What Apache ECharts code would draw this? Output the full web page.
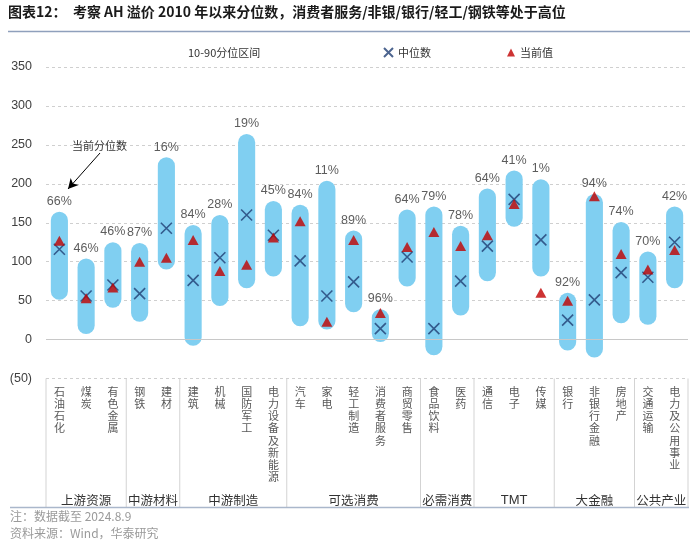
<!DOCTYPE html>
<html>
<head>
<meta charset="utf-8">
<script src="https://cdn.jsdelivr.net/npm/echarts@6/dist/echarts.min.js"></script>
<style>
html,body{margin:0;padding:0;background:#fff;}
#c{width:700px;height:547px;}
</style>
</head>
<body>
<div id="c"></div>
<script>
const categories = ['石油石化','煤炭','有色金属','钢铁','建材','建筑','机械','国防军工','电力设备及新能源','汽车','家电','轻工制造','消费者服务','商贸零售','食品饮料','医药','通信','电子','传媒','银行','非银行金融','房地产','交通运输','电力及公用事业'];
const groupNames = ['上游资源','中游材料','中游制造','可选消费','必需消费','TMT','大金融','公共产业'];
const groupSizes = [3,2,4,5,2,3,3,2];
const p10 = [51, 7, 41, 23, 90, -8, 43, 66, 81, 17, 13, 35, -3, 68, -20, 31, 75, 145, 81, -14, -23, 21, 19, 66];
const p90 = [164, 104, 125, 124, 234, 147, 160, 264, 178, 173, 204, 140, 39, 167, 171, 146, 194, 217, 206, 60, 187, 151, 113, 171];
const medians = [116, 56, 70, 59, 143, 76, 105, 160, 134, 101, 56, 74, 14, 106, 14, 75, 120, 180, 128, 25, 51, 86, 80, 125];
const currents = [127, 53, 67, 100, 105, 128, 88, 96, 131, 152, 23, 128, 34, 119, 138, 120, 134, 174, 60, 50, 184, 110, 90, 115];
const pctLabels = ['66%','46%','46%','87%','16%','84%','28%','19%','45%','84%','11%','89%','96%','64%','79%','78%','64%','41%','1%','92%','94%','74%','70%','42%'];
const yTicks = {min:-50, max:350, interval:50};

const FONT = '"Liberation Sans", Arial, "Noto Sans CJK SC", sans-serif';
const CJK = '"Noto Sans CJK SC", "Liberation Sans", sans-serif';
const BAR = '#80cff1';
const XPATH = 'path://M0,0L10,10M10,0L0,10';

const chart = echarts.init(document.getElementById('c'), null, {renderer:'canvas'});

const option = {
  animation:false,
  backgroundColor:'#fff',
  grid:{left:46, right:12, top:67, bottom:168.5},
  legend:[
    {left:170, top:42, itemWidth:8, itemHeight:8, itemGap:0, textStyle:{fontSize:11, color:'#333', fontFamily:CJK},
     data:[{name:'10-90分位区间', icon:'rect', itemStyle:{opacity:0}}]},
    {left:378, top:42, itemWidth:9, itemHeight:9, itemGap:0, textStyle:{fontSize:11, color:'#333', fontFamily:CJK},
     data:[{name:'中位数', icon:XPATH}]},
    {left:502, top:42, itemWidth:8, itemHeight:8, itemGap:0, textStyle:{fontSize:11, color:'#333', fontFamily:CJK},
     data:[{name:'当前值', icon:'triangle'}]}
  ],
  xAxis:{
    type:'category', data:categories,
    axisLine:{show:false, onZero:false}, axisTick:{show:false},
    axisLabel:{interval:0, margin:7, fontSize:11, lineHeight:12.2, color:'#595959', fontFamily:CJK,
      verticalAlign:'top', formatter:v=>v.split('').join('\n')},
    splitLine:{show:false}
  },
  yAxis:{
    type:'value', min:yTicks.min, max:yTicks.max, interval:yTicks.interval,
    axisLine:{show:false}, axisTick:{show:false},
    axisLabel:{margin:14, fontSize:12.5, color:'#404040', fontFamily:FONT,
      formatter:v=> v<0 ? '('+(-v)+')' : String(v)},
    splitLine:{lineStyle:{color:'#cfcfcf', type:[3,3], width:1}}
  },
  series:[
    {
      name:'10-90分位区间', type:'custom', z:2,
      itemStyle:{color:BAR},
      encode:{x:0, y:[1,2]},
      data:categories.map((c,i)=>[i, p10[i], p90[i]]),
      renderItem:function(params, api){
        const x = api.value(0);
        const top = api.coord([x, api.value(2)]);
        const bot = api.coord([x, api.value(1)]);
        const w = api.size([1,0])[0]*0.64;
        return {type:'rect', shape:{x:top[0]-w/2, y:top[1], width:w, height:bot[1]-top[1], r:w/2},
          style:{fill:BAR}};
      },
      markLine:{silent:true, symbol:'none', label:{show:false},
        lineStyle:{color:'#c8c8c8', type:'solid', width:1},
        data:[{yAxis:0}]}
    },
    {
      name:'中位数', type:'scatter', z:4, symbol:XPATH, symbolSize:11,
      itemStyle:{color:'rgba(0,0,0,0)', borderColor:'#1f3d73', borderWidth:1.6},
      data:medians
    },
    {
      name:'当前值', type:'scatter', z:5, symbol:'triangle', symbolSize:[11,10],
      itemStyle:{color:'#c00000'},
      data:currents
    },
    {
      name:'pct', type:'scatter', z:6, symbolSize:0, silent:true,
      label:{show:true, position:'top', distance:4, fontSize:12.5, color:'#333', fontFamily:FONT,
        formatter:p=>pctLabels[p.dataIndex]},
      data:p90,
      markLine:{silent:true, symbol:['none','arrow'], symbolSize:[8,10], label:{show:false},
        lineStyle:{color:'#000', type:'solid', width:1},
        data:[[{x:100, y:153},{x:68, y:189}]]}
    }
  ]
};
chart.setOption(option);

// decorations: title, category-group table, footer
const g = [];
g.push({type:'text', left:8, top:5, style:{text:'图表12：  考察 AH 溢价 2010 年以来分位数，消费者服务/非银/银行/轻工/钢铁等处于高位',
  font:'bold 14px '+CJK, fill:'#1a1a1a'}});
g.push({type:'line', shape:{x1:8, y1:31.5, x2:690, y2:31.5}, style:{stroke:'#8fa0bc', lineWidth:1.5}});
g.push({type:'text', left:72, top:140, style:{text:'当前分位数', font:'11px '+CJK, fill:'#333'}});

const yBox = chart.convertToPixel({yAxisIndex:0}, yTicks.min);
const c0 = chart.convertToPixel({xAxisIndex:0}, 0);
const c1 = chart.convertToPixel({xAxisIndex:0}, 1);
const bw = c1 - c0;
let start = 0;
const yBottom = 507.5;
const bounds = [c0 - bw/2];
groupNames.forEach((name, k)=>{
  const n = groupSizes[k];
  const left = chart.convertToPixel({xAxisIndex:0}, start) - bw/2;
  const right = chart.convertToPixel({xAxisIndex:0}, start+n-1) + bw/2;
  bounds.push(right);
  g.push({type:'text', x:(left+right)/2, y:500, style:{text:name, font:(name==='TMT'?'13px '+FONT:'12.5px '+CJK), fill:'#333', textAlign:'center', textVerticalAlign:'middle'}});
  start += n;
});
bounds.forEach(b=>{
  g.push({type:'line', shape:{x1:b, y1:yBox, x2:b, y2:yBottom}, style:{stroke:'#d3d3d3', lineWidth:1}});
});
g.push({type:'line', shape:{x1:10, y1:yBottom, x2:bounds[bounds.length-1]+1, y2:yBottom}, style:{stroke:'#aab7cb', lineWidth:1.5}});
g.push({type:'text', left:10, top:510, style:{text:'注：数据截至 2024.8.9', font:'12px '+CJK, fill:'#9a9a9a'}});
g.push({type:'text', left:10, top:527, style:{text:'资料来源：Wind，华泰研究', font:'12px '+CJK, fill:'#9a9a9a'}});
chart.setOption({graphic:g});
</script>
</body>
</html>
